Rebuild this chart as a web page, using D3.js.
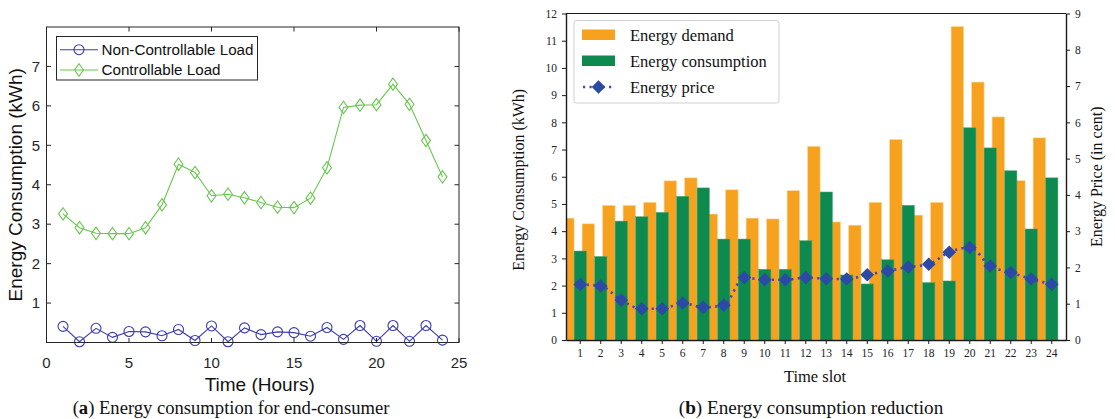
<!DOCTYPE html>
<html>
<head>
<meta charset="utf-8">
<script src="https://cdn.jsdelivr.net/npm/d3@7/dist/d3.min.js"></script>
<style>
  html, body { margin: 0; padding: 0; background: #fff; }
  svg { display: block; }
</style>
</head>
<body>
<svg id="fig" width="1115" height="419"></svg>
<script>
// ---- Panel (a): hourly load of one end-consumer ----
const hours = d3.range(1, 25);
const nonControllable = [0.41, 0.02, 0.36, 0.13, 0.28, 0.27, 0.17, 0.33, 0.05, 0.42, 0.02, 0.37,
                         0.20, 0.27, 0.25, 0.16, 0.38, 0.08, 0.43, 0.03, 0.43, 0.03, 0.43, 0.06];
const controllable = [3.26, 2.91, 2.77, 2.76, 2.76, 2.91, 3.49, 4.52, 4.31, 3.72, 3.76, 3.67,
                      3.55, 3.43, 3.42, 3.66, 4.43, 5.96, 6.02, 6.03, 6.55, 6.04, 5.12, 4.20];
const aXTicks = [0, 5, 10, 15, 20, 25];
const aYTicks = [1, 2, 3, 4, 5, 6, 7];

// ---- Panel (b): demand, scheduled consumption and price per slot ----
const slots = d3.range(1, 25);
const demand = [4.48, 4.27, 4.95, 4.95, 5.06, 5.85, 5.96, 4.63, 5.52, 4.48, 4.45, 5.49,
                7.12, 4.34, 4.22, 5.06, 7.37, 4.59, 5.06, 11.52, 9.48, 8.20, 5.86, 7.43];
const consumption = [3.27, 3.07, 4.37, 4.53, 4.69, 5.28, 5.59, 3.71, 3.71, 2.60, 2.60, 3.65,
                     5.44, 2.39, 2.06, 2.95, 4.95, 2.11, 2.17, 7.80, 7.06, 6.22, 4.08, 5.96];
const price = [1.53, 1.49, 1.10, 0.86, 0.86, 1.02, 0.90, 0.96, 1.72, 1.66, 1.66, 1.72,
               1.69, 1.68, 1.80, 1.90, 2.01, 2.09, 2.42, 2.55, 2.04, 1.86, 1.68, 1.54];
const bLeftTicks = d3.range(0, 13);
const bRightTicks = d3.range(0, 10);

const svg = d3.select("#fig");

// ================= Panel (a) =================
(function drawPanelA() {
  const L = 46.5, R = 459, T = 27, B = 342.5;
  const sans = "'Liberation Sans', Arial, sans-serif";
  const x = d3.scaleLinear().domain([0, 25]).range([L, R]);
  const y = d3.scaleLinear().domain([0, 8]).range([B, T]);
  const g = svg.append("g");
  const blue = "#3b3bb0", green = "#66c74c";

  // series lines and markers
  const line = d3.line().x((d, i) => x(hours[i])).y(d => y(d));
  g.append("path").datum(controllable).attr("d", line)
    .attr("fill", "none").attr("stroke", green).attr("stroke-width", 1.1);
  g.append("path").datum(nonControllable).attr("d", line)
    .attr("fill", "none").attr("stroke", blue).attr("stroke-width", 1.1);

  const diamond = (cx, cy, r) => `M${cx},${cy - r}L${cx + r * 0.72},${cy}L${cx},${cy + r}L${cx - r * 0.72},${cy}Z`;
  g.selectAll(".dm").data(controllable).enter().append("path")
    .attr("d", (d, i) => diamond(x(hours[i]), y(d), 6.2))
    .attr("fill", "none").attr("stroke", green).attr("stroke-width", 1.1);
  g.selectAll(".cm").data(nonControllable).enter().append("circle")
    .attr("cx", (d, i) => x(hours[i])).attr("cy", d => y(d)).attr("r", 5)
    .attr("fill", "none").attr("stroke", blue).attr("stroke-width", 1.1);

  // axes box with inward ticks on all four sides
  g.append("rect").attr("x", L).attr("y", T).attr("width", R - L).attr("height", B - T)
    .attr("fill", "none").attr("stroke", "#262626").attr("stroke-width", 1);
  const tl = 4.5;
  aXTicks.forEach(t => {
    g.append("line").attr("x1", x(t)).attr("x2", x(t)).attr("y1", B).attr("y2", B - tl).attr("stroke", "#262626");
    g.append("line").attr("x1", x(t)).attr("x2", x(t)).attr("y1", T).attr("y2", T + tl).attr("stroke", "#262626");
    g.append("text").attr("x", x(t)).attr("y", 367.5).attr("text-anchor", "middle")
      .attr("font-family", sans).attr("font-size", 15).attr("fill", "#262626").text(t);
  });
  aYTicks.forEach(t => {
    g.append("line").attr("x1", L).attr("x2", L + tl).attr("y1", y(t)).attr("y2", y(t)).attr("stroke", "#262626");
    g.append("line").attr("x1", R).attr("x2", R - tl).attr("y1", y(t)).attr("y2", y(t)).attr("stroke", "#262626");
    g.append("text").attr("x", 40).attr("y", y(t) + 5.3).attr("text-anchor", "end")
      .attr("font-family", sans).attr("font-size", 15).attr("fill", "#262626").text(t);
  });

  g.append("text").attr("x", (L + R) / 2 + 7).attr("y", 391).attr("text-anchor", "middle")
    .attr("font-family", sans).attr("font-size", 19).attr("fill", "#111").text("Time (Hours)");
  g.append("text").attr("transform", `translate(22,${(T + B) / 2 + 0}) rotate(-90)`)
    .attr("text-anchor", "middle").attr("font-family", sans).attr("font-size", 19).attr("fill", "#111")
    .text("Energy Consumption (kWh)");

  // legend
  const lg = g.append("g");
  lg.append("rect").attr("x", 56.5).attr("y", 36.5).attr("width", 201).attr("height", 43.5)
    .attr("fill", "#fff").attr("stroke", "#262626").attr("stroke-width", 1);
  [[nonControllable, "Non-Controllable Load", blue, 49.7, "c"], [controllable, "Controllable Load", green, 70, "d"]]
    .forEach(([_, label, col, yy, m]) => {
      lg.append("line").attr("x1", 60).attr("x2", 98).attr("y1", yy).attr("y2", yy).attr("stroke", col).attr("stroke-width", 1.1);
      if (m === "c") lg.append("circle").attr("cx", 79).attr("cy", yy).attr("r", 5).attr("fill", "none").attr("stroke", col).attr("stroke-width", 1.1);
      else lg.append("path").attr("d", diamond(79, yy, 6.2)).attr("fill", "none").attr("stroke", col).attr("stroke-width", 1.1);
      lg.append("text").attr("x", 101.5).attr("y", yy + 5.3).attr("font-family", sans).attr("font-size", 15.2)
        .attr("fill", "#111").text(label);
    });

  // caption
  const cap = g.append("text").attr("x", 231).attr("y", 413.5).attr("text-anchor", "middle")
    .attr("font-family", "'Liberation Serif', 'Times New Roman', serif").attr("font-size", 18.6).attr("fill", "#111");
  cap.append("tspan").text("(");
  cap.append("tspan").attr("font-weight", "bold").text("a");
  cap.append("tspan").text(") Energy consumption for end-consumer");
})();

// ================= Panel (b) =================
(function drawPanelB() {
  const L = 566, R = 1066, T = 13.5, B = 340;
  const serif = "'Liberation Serif', 'Times New Roman', serif";
  const x = d3.scaleBand().domain(slots).range([L, R]).paddingInner(0).paddingOuter(0.195);
  const yL = d3.scaleLinear().domain([0, 12]).range([B, T]);
  const yR = d3.scaleLinear().domain([0, 9]).range([B, T]);
  const bw = x.bandwidth();
  const cx = s => x(s) + bw / 2;
  const orange = "#f7a21e", green = "#0e8a4f", blue = "#2a4aa6";

  const g = svg.append("g");
  g.append("clipPath").attr("id", "plotClip").append("rect")
    .attr("x", L).attr("y", T).attr("width", R - L).attr("height", B - T);
  const plot = g.append("g").attr("clip-path", "url(#plotClip)");

  // demand bars sit just left of each consumption bar
  plot.selectAll(".dem").data(demand).enter().append("rect")
    .attr("x", (d, i) => cx(slots[i]) - 0.91 * bw).attr("width", 0.61 * bw)
    .attr("y", d => yL(d)).attr("height", d => B - yL(d))
    .attr("fill", orange).attr("stroke", "#fbd9a0").attr("stroke-width", 0.6);
  plot.selectAll(".con").data(consumption).enter().append("rect")
    .attr("x", (d, i) => cx(slots[i]) - 0.3 * bw).attr("width", 0.6 * bw)
    .attr("y", d => yL(d)).attr("height", d => B - yL(d))
    .attr("fill", green).attr("stroke", "#4aa878").attr("stroke-width", 0.5);

  // price line on the right axis
  const pl = d3.line().x((d, i) => cx(slots[i])).y(d => yR(d)).curve(d3.curveMonotoneX);
  plot.append("path").datum(price).attr("d", pl).attr("fill", "none")
    .attr("stroke", "#4a45b0").attr("stroke-width", 2.6).attr("stroke-dasharray", "2.2,4.3");
  const dia = (px, py, r) => `M${px},${py - r}L${px + r},${py}L${px},${py + r}L${px - r},${py}Z`;
  plot.selectAll(".pm").data(price).enter().append("path")
    .attr("d", (d, i) => dia(cx(slots[i]), yR(d), 6.8)).attr("fill", blue);

  // frame and axes
  const ink = "#1a1a1a";
  g.append("line").attr("x1", L).attr("x2", R).attr("y1", T).attr("y2", T).attr("stroke", ink).attr("stroke-width", 1.2);
  g.append("g").attr("transform", `translate(0,${B})`)
    .call(d3.axisBottom(x).tickSize(4).tickPadding(5).tickSizeOuter(0))
    .call(a => a.select(".domain").attr("stroke", ink).attr("stroke-width", 1.4))
    .call(a => a.selectAll(".tick line").attr("stroke", ink))
    .call(a => a.selectAll("text").attr("font-family", serif).attr("font-size", 11.5).attr("fill", "#222"));
  g.append("g").attr("transform", `translate(${L},0)`)
    .call(d3.axisLeft(yL).tickValues(bLeftTicks).tickSize(4).tickPadding(5).tickSizeOuter(0))
    .call(a => a.select(".domain").attr("stroke", ink).attr("stroke-width", 1.4))
    .call(a => a.selectAll(".tick line").attr("stroke", ink))
    .call(a => a.selectAll("text").attr("font-family", serif).attr("font-size", 11.5).attr("fill", "#222"));
  g.append("g").attr("transform", `translate(${R},0)`)
    .call(d3.axisRight(yR).tickValues(bRightTicks).tickSize(4).tickPadding(5).tickSizeOuter(0))
    .call(a => a.select(".domain").attr("stroke", ink).attr("stroke-width", 1.4))
    .call(a => a.selectAll(".tick line").attr("stroke", ink))
    .call(a => a.selectAll("text").attr("font-family", serif).attr("font-size", 11.5).attr("fill", "#222"));

  g.append("text").attr("x", 815).attr("y", 382).attr("text-anchor", "middle")
    .attr("font-family", serif).attr("font-size", 16.5).attr("fill", "#111").text("Time slot");
  g.append("text").attr("transform", `translate(524,${(T + B) / 2 + 3}) rotate(-90)`)
    .attr("text-anchor", "middle").attr("font-family", serif).attr("font-size", 16).attr("fill", "#111")
    .text("Energy Consumption (kWh)");
  g.append("text").attr("transform", `translate(1102,${(T + B) / 2}) rotate(-90)`)
    .attr("text-anchor", "middle").attr("font-family", serif).attr("font-size", 16).attr("fill", "#111")
    .text("Energy Price (in cent)");

  // legend
  const lg = g.append("g");
  lg.append("rect").attr("x", 574).attr("y", 20.5).attr("width", 205).attr("height", 82.5).attr("rx", 2.5)
    .attr("fill", "#fff").attr("stroke", "#d0d0d0").attr("stroke-width", 1);
  lg.append("rect").attr("x", 582).attr("y", 29.5).attr("width", 33).attr("height", 10.5).attr("fill", orange);
  lg.append("rect").attr("x", 582).attr("y", 55.5).attr("width", 33).attr("height", 10.5).attr("fill", green);
  lg.append("line").attr("x1", 583).attr("x2", 615).attr("y1", 87).attr("y2", 87)
    .attr("stroke", "#4a45b0").attr("stroke-width", 2.6).attr("stroke-dasharray", "2.2,4.3");
  lg.append("path").attr("d", dia(598.5, 87, 6.8)).attr("fill", blue);
  [["Energy demand", 35], ["Energy consumption", 61], ["Energy price", 87]].forEach(([t, yy]) => {
    lg.append("text").attr("x", 630).attr("y", yy + 5.5).attr("font-family", serif).attr("font-size", 16.5)
      .attr("fill", "#111").text(t);
  });

  // caption
  const cap = g.append("text").attr("x", 811).attr("y", 413.5).attr("text-anchor", "middle")
    .attr("font-family", serif).attr("font-size", 19.2).attr("fill", "#111");
  cap.append("tspan").text("(");
  cap.append("tspan").attr("font-weight", "bold").text("b");
  cap.append("tspan").text(") Energy consumption reduction");
})();
</script>
</body>
</html>
